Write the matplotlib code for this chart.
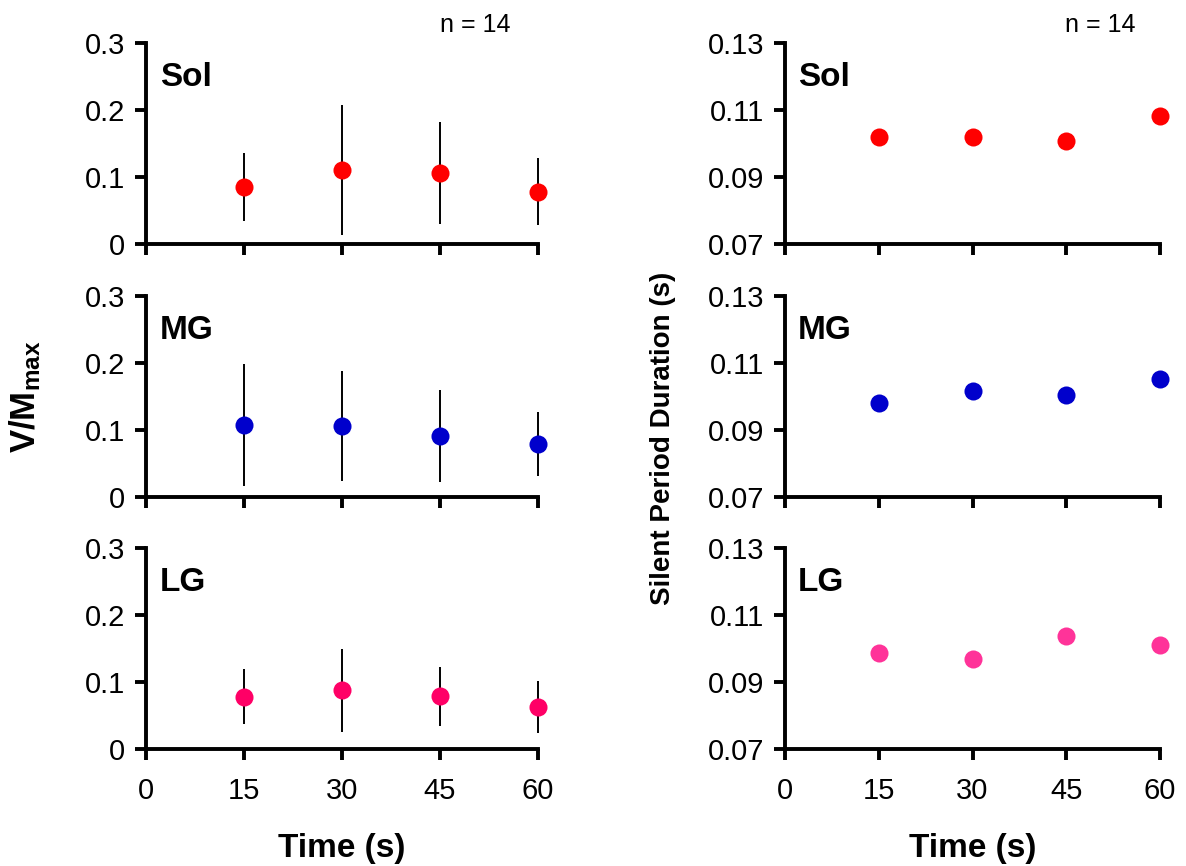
import numpy as np
import matplotlib
matplotlib.use("Agg")
import matplotlib.pyplot as plt

plt.rcParams["font.family"] = ["Liberation Sans", "DejaVu Sans"]
plt.rcParams["mathtext.fontset"] = "custom"
plt.rcParams["mathtext.rm"] = "Liberation Sans"
plt.rcParams["mathtext.bf"] = "Liberation Sans:bold"

# ---- data ----
time_s = [15, 30, 45, 60]
muscles = ["Sol", "MG", "LG"]

# V/Mmax mean and SD
vm_sol = [0.085, 0.110, 0.106, 0.078]
vm_sol_sd = [0.051, 0.097, 0.076, 0.050]
vm_mg = [0.108, 0.106, 0.091, 0.079]
vm_mg_sd = [0.091, 0.082, 0.068, 0.048]
vm_lg = [0.078, 0.088, 0.079, 0.063]
vm_lg_sd = [0.041, 0.062, 0.044, 0.039]

# silent period duration (s)
sp_sol = [0.1019, 0.1019, 0.1008, 0.1083]
sp_mg = [0.0981, 0.1017, 0.1005, 0.1053]
sp_lg = [0.0988, 0.0970, 0.1038, 0.1011]

left_colors = ["#FF0000", "#0000CC", "#FF0066"]
right_colors = ["#FF0000", "#0000CC", "#FF3399"]

vm_means = [vm_sol, vm_mg, vm_lg]
vm_sds = [vm_sol_sd, vm_mg_sd, vm_lg_sd]
sp_means = [sp_sol, sp_mg, sp_lg]

fig = plt.figure(figsize=(11.86, 8.66), dpi=100)

W, H = 1186, 866
tops = [43, 296, 548]
panel_h = 201


def style_axis(ax, yticks, ylabels, show_xlabels):
    for s in ["top", "right"]:
        ax.spines[s].set_visible(False)
    for s in ["left", "bottom"]:
        ax.spines[s].set_linewidth(2.8)
    ax.set_xlim(0, 60)
    ax.set_xticks([0, 15, 30, 45, 60])
    ax.set_yticks(yticks)
    ax.set_yticklabels(ylabels)
    ax.set_ylim(yticks[0], yticks[-1])
    ax.tick_params(axis="both", direction="out", length=8, width=2.8,
                   labelsize=21)
    ax.tick_params(axis="y", pad=7)
    ax.tick_params(axis="x", pad=12)
    if not show_xlabels:
        ax.set_xticklabels([])


for i, m in enumerate(muscles):
    bottom = 1 - (tops[i] + panel_h) / H
    hh = panel_h / H

    # left column: V/Mmax
    ax = fig.add_axes([146 / W, bottom, (538 - 146) / W, hh])
    ax.errorbar(time_s, vm_means[i], yerr=vm_sds[i], fmt="o",
                color=left_colors[i], ecolor="black", elinewidth=1.4,
                capsize=0, markersize=13, markeredgewidth=0, clip_on=False,
                zorder=3)
    style_axis(ax, [0, 0.1, 0.2, 0.3], ["0", "0.1", "0.2", "0.3"], i == 2)
    ax.text(0.035, 0.83, m, transform=ax.transAxes, fontsize=24,
            fontweight="bold", va="center")
    if i == 0:
        ax.text(0.84, 1.09, "n = 14", transform=ax.transAxes, fontsize=18,
                ha="center", va="center")
    if i == 1:
        ax.set_ylabel(r"$\mathbf{V/M_{max}}$", fontsize=25)
        ax.yaxis.set_label_coords(-0.263, 0.5)
    if i == 2:
        ax.set_xlabel("Time (s)", fontsize=24, fontweight="bold", labelpad=20)

    # right column: silent period
    ax2 = fig.add_axes([785 / W, bottom, (1160 - 785) / W, hh])
    ax2.plot(time_s, sp_means[i], "o", color=right_colors[i],
             markersize=13, markeredgewidth=0, clip_on=False, zorder=3)
    style_axis(ax2, [0.07, 0.09, 0.11, 0.13],
               ["0.07", "0.09", "0.11", "0.13"], i == 2)
    ax2.text(0.035, 0.83, m, transform=ax2.transAxes, fontsize=24,
             fontweight="bold", va="center")
    if i == 0:
        ax2.text(0.84, 1.09, "n = 14", transform=ax2.transAxes, fontsize=18,
                 ha="center", va="center")
    if i == 1:
        ax2.set_ylabel("Silent Period Duration (s)", fontsize=20,
                       fontweight="bold")
        ax2.yaxis.set_label_coords(-0.29, 0.29)
    if i == 2:
        ax2.set_xlabel("Time (s)", fontsize=24, fontweight="bold", labelpad=20)

fig.savefig("out.png", dpi=100)
